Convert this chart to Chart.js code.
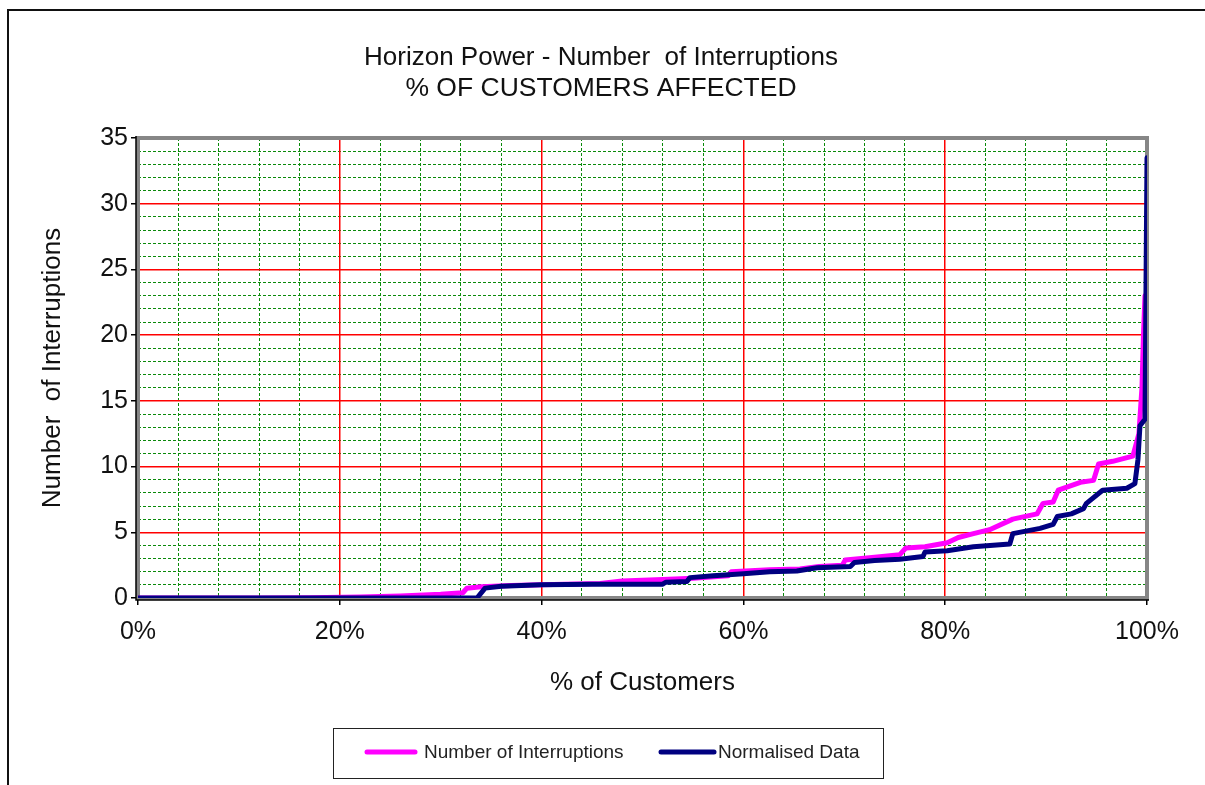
<!DOCTYPE html>
<html>
<head>
<meta charset="utf-8">
<script src="https://cdn.jsdelivr.net/npm/chart.js@4.4.1/dist/chart.umd.min.js"></script>
<style>
html,body{margin:0;padding:0;background:#fff;}
#wrap{position:relative;width:1205px;height:785px;}
</style>
</head>
<body>
<div id="wrap"><canvas id="c" width="1205" height="785"></canvas></div>
<script>
// ---- data ----
const titleLines = ['Horizon Power - Number  of Interruptions', '% OF CUSTOMERS AFFECTED'];
const xAxisTitle = '% of Customers';
const yAxisTitle = 'Number  of Interruptions';
const seriesNames = ['Number of Interruptions', 'Normalised Data'];

// % of customers (x) and number of interruptions (y)
const interruptionsX = [0, 12, 17, 22, 26, 30, 32.2, 32.6, 34, 37, 40, 45.8, 48, 52, 55, 58.5, 58.8, 62.6, 65.6, 67.5, 69.8, 70.1, 73, 75.5, 76.1, 78, 80.2, 81.3, 82.8, 84.4, 86.7, 89.1, 89.7, 90.7, 91.2, 93.4, 94.7, 95.2, 96.6, 98.6, 99.2, 99.5, 99.65, 99.8];
const interruptionsY = [0, 0, 0.02, 0.08, 0.15, 0.28, 0.4, 0.75, 0.85, 0.95, 1.0, 1.1, 1.3, 1.4, 1.5, 1.7, 2.0, 2.15, 2.2, 2.4, 2.5, 2.9, 3.1, 3.3, 3.8, 3.9, 4.2, 4.6, 4.9, 5.2, 6.0, 6.4, 7.2, 7.3, 8.2, 8.8, 8.95, 10.2, 10.4, 10.8, 12.5, 16, 20, 23];

const normalisedX = [0, 33.6, 34.4, 36, 40, 45, 52, 52.3, 54.4, 54.7, 57, 60, 62.6, 65.3, 67.3, 70.6, 71, 73, 75.5, 77.8, 78, 80.2, 82.8, 86.4, 86.7, 89.4, 90.7, 91.1, 92.5, 93.7, 94, 95.6, 98, 98.8, 99.1, 99.3, 99.8, 100];
const normalisedY = [0, 0, 0.75, 0.9, 1.0, 1.05, 1.05, 1.2, 1.25, 1.55, 1.7, 1.85, 2.0, 2.05, 2.3, 2.4, 2.7, 2.85, 2.95, 3.15, 3.5, 3.6, 3.9, 4.1, 4.9, 5.3, 5.6, 6.2, 6.4, 6.8, 7.2, 8.2, 8.35, 8.7, 10.5, 13.1, 13.6, 33.5];

const xMajorStep = 20, xMinorStep = 4;   // tick labels 0% .. 100%
const yMajorStep = 5, yMinorStep = 1;    // tick labels 0 .. 35
const xMin = 0, xMax = 100, yMin = 0, yMax = 35;

// ---- chart ----
const FONT = "'Liberation Sans', Arial, sans-serif";
const toPoints = (xs, ys) => xs.map((x, i) => ({x: x, y: ys[i]}));
const isMultiple = (v, step) => Math.abs(v / step - Math.round(v / step)) < 1e-6;
const MINOR_GREEN = '#0A8A0A';
const MAJOR_RED = '#FF0000';

const framePlugin = {
  id: 'frame',
  beforeDraw(chart) {
    const c = chart.ctx;
    c.save();
    c.fillStyle = '#fff';
    c.fillRect(0, 0, chart.width, chart.height);
    c.strokeStyle = '#111';
    c.lineWidth = 2;
    c.beginPath();
    c.moveTo(8, chart.height);
    c.lineTo(8, 10);
    c.lineTo(chart.width, 10);
    c.stroke();
    c.restore();
  },
  beforeDatasetsDraw(chart) {
    const a = chart.chartArea, c = chart.ctx;
    c.save();
    c.strokeStyle = '#868686';
    c.lineWidth = 4;
    c.strokeRect(a.left, a.top, a.right - a.left, a.bottom - a.top);
    c.strokeStyle = '#000';
    c.lineWidth = 1.5;
    c.beginPath();
    c.moveTo(a.left - 2, a.top - 2);
    c.lineTo(a.left - 2, a.bottom + 2);
    c.lineTo(a.right + 2, a.bottom + 2);
    c.stroke();
    c.restore();
  },
  afterDraw(chart) {
    const c = chart.ctx;
    const ds = chart.data.datasets;
    c.save();
    // chart title
    c.fillStyle = '#111';
    c.textAlign = 'center';
    c.textBaseline = 'middle';
    c.font = '26px ' + FONT;
    c.fillText(titleLines[0], 601, 58);
    c.font = '26.5px ' + FONT;
    c.fillText(titleLines[1], 601, 89);
    // legend box
    c.strokeStyle = '#222';
    c.lineWidth = 1;
    c.strokeRect(333.5, 728.5, 550, 50);
    const items = [{x0: 367, x1: 415, tx: 424}, {x0: 661, x1: 714, tx: 718}];
    c.font = '19px ' + FONT;
    c.textAlign = 'left';
    items.forEach((it, i) => {
      c.strokeStyle = ds[i].borderColor;
      c.lineWidth = 5;
      c.lineCap = 'round';
      c.beginPath();
      c.moveTo(it.x0, 752);
      c.lineTo(it.x1, 752);
      c.stroke();
      c.fillStyle = '#222';
      c.fillText(ds[i].label, it.tx, 753);
    });
    c.restore();
  }
};

new Chart(document.getElementById('c'), {
  type: 'line',
  data: {
    datasets: [
      {label: seriesNames[0], xAxisID: 'x', yAxisID: 'y', data: toPoints(interruptionsX, interruptionsY), borderColor: '#FF00FF', backgroundColor: '#FF00FF', borderWidth: 5, pointRadius: 0, tension: 0, fill: false, order: 2, borderCapStyle: 'round', borderJoinStyle: 'round'},
      {label: seriesNames[1], xAxisID: 'x', yAxisID: 'y', data: toPoints(normalisedX, normalisedY), borderColor: '#000080', backgroundColor: '#000080', borderWidth: 5, pointRadius: 0, tension: 0, fill: false, order: 1, borderCapStyle: 'round', borderJoinStyle: 'round'}
    ]
  },
  plugins: [framePlugin],
  options: {
    responsive: false,
    animation: false,
    events: [],
    layout: {padding: {left: 0, right: 58, top: 138, bottom: 0}},
    plugins: {
      legend: {display: false},
      tooltip: {enabled: false},
      title: {display: false}
    },
    scales: {
      x: {
        type: 'linear', position: 'bottom', min: xMin, max: xMax,
        ticks: {stepSize: xMajorStep, color: '#111', font: {family: FONT, size: 25}, padding: 12, maxRotation: 0, callback: (v) => v + '%'},
        grid: {z: 0, color: MAJOR_RED, lineWidth: 1.5, tickLength: 7, tickColor: '#000', tickWidth: 1.5},
        border: {display: false},
        title: {display: true, text: xAxisTitle, color: '#111', font: {family: FONT, size: 26}, padding: {top: 0, bottom: 87}},
        afterFit: (s) => { s.height = 187; }
      },
      xMinor: {
        type: 'linear', position: 'bottom', min: xMin, max: xMax,
        ticks: {display: false, stepSize: xMinorStep},
        grid: {z: -1, drawTicks: false, color: (ctx) => (ctx.tick && isMultiple(ctx.tick.value, xMajorStep)) ? 'rgba(0,0,0,0)' : MINOR_GREEN, lineWidth: 1},
        border: {display: false, dash: [3, 2]},
        afterFit: (s) => { s.height = 0; }
      },
      y: {
        type: 'linear', position: 'left', min: yMin, max: yMax,
        ticks: {stepSize: yMajorStep, color: '#111', font: {family: FONT, size: 25}, padding: 3},
        grid: {z: 0, color: MAJOR_RED, lineWidth: 1.5, tickLength: 7, tickColor: '#000', tickWidth: 1.5},
        border: {display: false},
        title: {display: true, text: yAxisTitle, color: '#111', font: {family: FONT, size: 26}, padding: {top: 37, bottom: 0}},
        afterFit: (s) => { s.width = 138; }
      },
      yMinor: {
        type: 'linear', position: 'left', min: yMin, max: yMax,
        ticks: {display: false, stepSize: yMinorStep},
        grid: {z: -1, drawTicks: false, color: (ctx) => (ctx.tick && isMultiple(ctx.tick.value, yMajorStep)) ? 'rgba(0,0,0,0)' : MINOR_GREEN, lineWidth: 1},
        border: {display: false, dash: [3, 2]},
        afterFit: (s) => { s.width = 0; }
      }
    }
  }
});
</script>
</body>
</html>
